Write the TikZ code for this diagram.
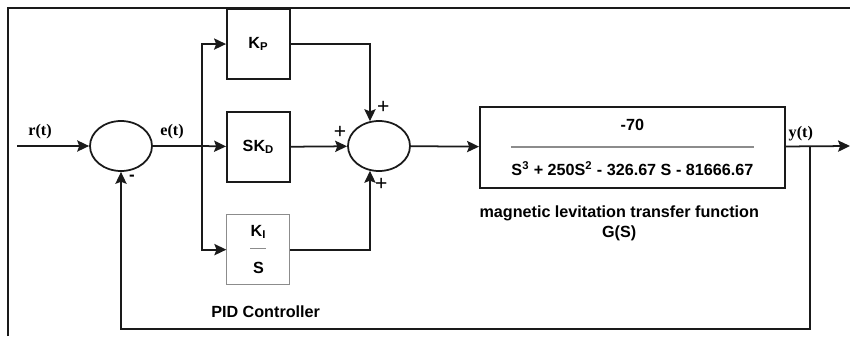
\documentclass[tikz,border=0pt]{standalone}
\usepackage{fontspec}
\setmainfont{Liberation Sans}
\newfontfamily\sigfont{Liberation Serif}
\usepackage{xcolor}
\usepackage{tikz}
\usetikzlibrary{arrows.meta,positioning,shapes.geometric,calc}
\definecolor{lineblack}{HTML}{1A1A1A}
\definecolor{rulegray}{HTML}{8C8C8C}

\begin{document}
\begin{tikzpicture}[
  node distance=0.78cm,
  block/.style={rectangle, draw=lineblack, line width=1.25pt, minimum width=1.575cm,
                minimum height=1.75cm, font=\fontsize{11.5}{13.8}\selectfont\bfseries,
                align=center, inner sep=1pt},
  sumnode/.style={ellipse, draw=lineblack, line width=1.25pt, minimum width=1.55cm,
                  minimum height=1.25cm, inner sep=0pt},
  signal/.style={font=\sigfont\fontsize{11.5}{13.8}\selectfont\bfseries},
  sign/.style={font=\fontsize{15}{15}\selectfont, inner sep=0pt},
  caption/.style={font=\fontsize{11.5}{13.8}\selectfont\bfseries, align=center},
  arrow/.style={-{Stealth[length=8.5pt, width=8pt, inset=1.5pt]}, line width=1.25pt, lineblack},
  wire/.style={line width=1.25pt, lineblack},
]
\useasboundingbox (0,0) rectangle (21.25,-8.4);

% frame
\draw[line width=0.9pt, lineblack] (0.2,-8.4) -- (0.2,-0.2) -- (21.25,-0.2);

% error summing point
\coordinate (rin) at (0.425,-3.65);
\node[sumnode] (sum1) at (3.025,-3.65) {};
\node[signal] (rlabel) at (1.0,-3.3) {r(t)};
\node[signal] (elabel) at (4.3,-3.3) {e(t)};
\node[font=\fontsize{12}{12}\selectfont\bfseries] (minus) at (3.3,-4.45) {-};

% PID branches
\node[block] (skd) at (6.46,-3.675) {SK\textsubscript{D}};
\node[block, above=of skd] (kp) {K\textsubscript{P}};
\node[block, below=of skd, draw=rulegray, line width=0.8pt] (ki)
  {K\textsubscript{I}\\[-2pt]{\color{rulegray}\rule[3pt]{0.4cm}{0.8pt}}\\[1pt]S};
\node[caption, below=0.38cm of ki, xshift=0.18cm] (pidlabel) {PID Controller};
\coordinate (br) at (5.05,-3.65);

% PID summing point
\node[sumnode] (sum2) at (9.475,-3.65) {};
\node[sign] (plustop) at (9.58,-2.68) {+};
\node[sign] (plusleft) at (8.5,-3.3) {+};
\node[sign] (plusbot) at (9.53,-4.6) {+};

% plant
\node[block, minimum width=7.625cm, minimum height=2.025cm] (plant) at (15.81,-3.69)
  {-70\\[1pt]{\color{rulegray}\rule[3pt]{6.075cm}{1pt}}\\[3pt]
   S\textsuperscript{3} + 250S\textsuperscript{2} - 326.67 S - 81666.67};
\node[caption, below=0.3cm of plant, xshift=-0.33cm] (plantlabel)
  {magnetic levitation transfer function\\G(S)};
\node[signal] (ylabel) at (20.02,-3.33) {y(t)};
\coordinate (yb) at (20.25,-3.65);
\coordinate (yout) at (21.25,-3.65);
\coordinate (fbcorner) at (20.25,-8.225);

% connections
\draw[arrow] (rin) -- (sum1);
\draw[wire] (sum1) -- (br);
\draw[arrow] (br) -- (skd);
\draw[arrow] (br) |- (kp);
\draw[arrow] (br) |- (ki);
\draw[arrow] (kp.east) -| (sum2.110);
\draw[arrow] (skd) -- (sum2);
\draw[arrow] (ki.east) -| (sum2.-110);
\draw[arrow] (sum2) -- (plant);
\draw[arrow] (plant) -- (yout);
\draw[arrow] (yb) -- (fbcorner) -| (sum1.south);

\end{tikzpicture}
\end{document}
